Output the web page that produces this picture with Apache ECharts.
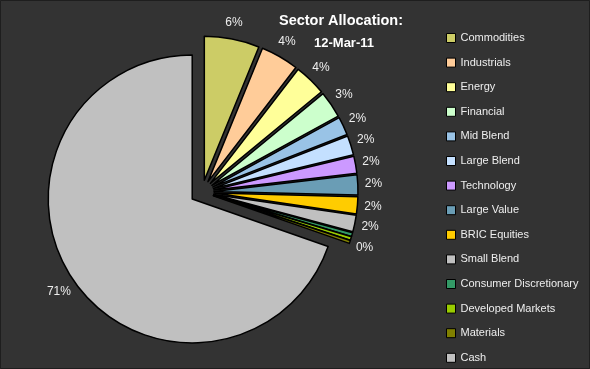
<!DOCTYPE html>
<html>
<head>
<meta charset="utf-8">
<script src="https://cdn.jsdelivr.net/npm/echarts@6/dist/echarts.min.js"></script>
<style>
  html, body { margin: 0; padding: 0; background: #333333; }
  #chart { width: 590px; height: 369px; }
</style>
</head>
<body>
<div id="chart"></div>
<script>
// Data (percent values shown on the labels)
const categories = ['Commodities', 'Industrials', 'Energy', 'Financial', 'Mid Blend', 'Large Blend',
  'Technology', 'Large Value', 'BRIC Equities', 'Small Blend', 'Consumer Discretionary',
  'Developed Markets', 'Materials', 'Cash'];
const values = [6.3, 4.35, 3.65, 3.05, 2.1, 2.2, 1.95, 2.3, 1.95, 1.9, 0.45, 0.4, 0.35, 71.0];
const colors = ['#CCCC66', '#FFCC99', '#FFFF99', '#CCFFCC', '#99C3E6', '#C4E0FF',
  '#CC99FF', '#6A9DB5', '#FFCC00', '#C0C0C0', '#339966', '#99CC00', '#808000', '#C0C0C0'];
const titleText = 'Sector Allocation:';
const dateText = '12-Mar-11';

const FONT = '"Liberation Sans", Arial, sans-serif';

const chart = echarts.init(document.getElementById('chart'), null, { renderer: 'canvas' });
const pieData = categories.map((name, i) => ({
  name: name,
  value: values[i],
  selected: true,
  itemStyle: { color: colors[i] }
}));

chart.setOption({
  backgroundColor: '#333333',
  animation: false,
  graphic: [
    { type: 'text', x: 341, y: 21, z: 100,
      style: { text: titleText, fill: '#ffffff', font: 'bold 14.5px ' + FONT,
               align: 'center', verticalAlign: 'middle', textAlign: 'center', textVerticalAlign: 'middle' } },
    { type: 'text', x: 344, y: 43.5, z: 100,
      style: { text: dateText, fill: '#ffffff', font: 'bold 13px ' + FONT,
               align: 'center', verticalAlign: 'middle', textAlign: 'center', textVerticalAlign: 'middle' } },
    { type: 'rect', shape: { x: 0.5, y: 0.5, width: 589, height: 368 },
      style: { fill: 'none', stroke: '#1e1e1e', lineWidth: 1 }, silent: true, z: 100 }
  ],
  legend: {
    orient: 'vertical',
    left: 446,
    top: 31,
    height: 338,
    padding: 0,
    icon: 'rect',
    itemWidth: 9,
    itemHeight: 9,
    itemGap: 10.6,
    selectedMode: false,
    data: categories,
    itemStyle: { borderColor: '#000', borderWidth: 1 },
    textStyle: { color: '#eeeeee', fontSize: 11, fontFamily: FONT, lineHeight: 14 }
  },
  series: [{
    type: 'pie',
    center: [202, 192],
    radius: 144,
    startAngle: 90,
    clockwise: true,
    selectedMode: 'multiple',
    selectedOffset: 12,
    avoidLabelOverlap: false,
    emphasis: { disabled: true, scale: false },
    itemStyle: { borderColor: '#000000', borderWidth: 1.5 },
    label: {
      show: true,
      position: 'outside',
      color: '#eeeeee',
      fontSize: 12,
      fontFamily: FONT,
      distanceToLabelLine: -10,
      formatter: p => Math.round(p.value) + '%'
    },
    labelLine: { show: false, length: 17, length2: 0 },
    data: pieData
  }]
});
</script>
</body>
</html>
